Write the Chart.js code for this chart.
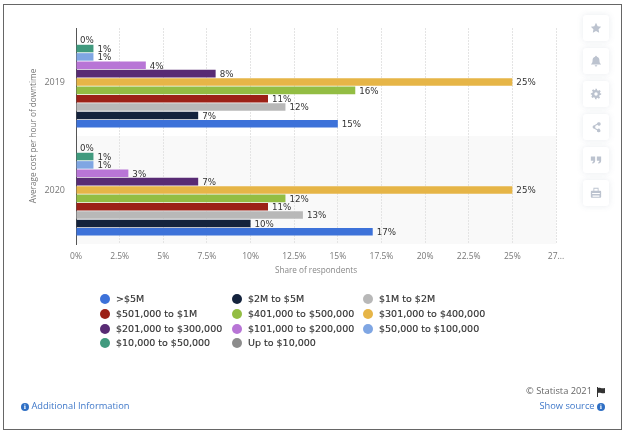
<!DOCTYPE html>
<html>
<head>
<meta charset="utf-8">
<script src="https://cdn.jsdelivr.net/npm/chart.js@4"></script>
<style>
html, body { margin: 0; padding: 0; background: #fff; }
#page { position: relative; width: 626px; height: 433px; overflow: hidden; }
#frame { position: absolute; left: 3px; top: 4px; width: 617px; height: 424px; border: 1px solid #666; }
canvas { position: absolute; left: 0; top: 0; }
.leg { position: absolute; font: 9.5px "DejaVu Sans"; color: #333; white-space: nowrap; line-height: 12px; -webkit-text-stroke: 0.15px #333; }
.dot { position: absolute; width: 10px; height: 10px; border-radius: 50%; }
.card { position: absolute; left: 583px; width: 26px; height: 26px; background: #fff; border-radius: 3px; box-shadow: 0 0 6px rgba(90,110,140,.14); }
.card svg { position: absolute; left: 7px; top: 7px; width: 12px; height: 12px; fill: #bcc3cf; }
.foot { position: absolute; font: 9.3px "Open Sans"; white-space: nowrap; line-height: 14px; }
.blue { color: #3f78c9; }
.info { display: inline-block; width: 8px; height: 8px; border-radius: 50%; background: #2f6fc4; color: #fff; font: bold 6px/8px "DejaVu Serif"; text-align: center; vertical-align: 0; }
</style>
</head>
<body>
<div id="page">
<div id="frame"></div>
<canvas id="grafico" width="626" height="433"></canvas>
<div id="legenda"></div>
<div id="botoes"></div>
<div class="foot" style="right:34px;top:384px;color:#666">© Statista 2021</div>
<svg style="position:absolute;left:596px;top:387px" width="10" height="10" viewBox="0 0 10 10"><path d="M1 0h1v10H1zM2 1c2-1 3 1 7 0v5c-3 1-5-1-7 0z" fill="#333"/></svg>
<div class="foot blue" style="left:21px;top:399px"><span class="info">i</span> Additional Information</div>
<div class="foot blue" style="right:21px;top:399px">Show source <span class="info">i</span></div>
</div>
<script>
const anos = ['2019', '2020'];
const faixas = ['Up to $10,000', '$10,000 to $50,000', '$50,000 to $100,000', '$101,000 to $200,000', '$201,000 to $300,000', '$301,000 to $400,000', '$401,000 to $500,000', '$501,000 to $1M', '$1M to $2M', '$2M to $5M', '>$5M'];
const cores = ['#8c8c8c', '#409a7e', '#7fa6e3', '#b875d6', '#582b74', '#e6b547', '#93bd43', '#9c2117', '#b8b8b8', '#14233d', '#3d72d9'];
const upTo10k = [0, 0];
const de10a50k = [1, 1];
const de50a100k = [1, 1];
const de101a200k = [4, 3];
const de201a300k = [8, 7];
const de301a400k = [25, 25];
const de401a500k = [16, 12];
const de501kA1M = [11, 11];
const de1a2M = [12, 13];
const de2a5M = [7, 10];
const acima5M = [15, 17];
const valores = [upTo10k, de10a50k, de50a100k, de101a200k, de201a300k, de301a400k, de401a500k, de501kA1M, de1a2M, de2a5M, acima5M];
const rotulosX = ['0%', '2.5%', '5%', '7.5%', '10%', '12.5%', '15%', '17.5%', '20%', '22.5%', '25%', '27...'];

// legend runs backwards from the stacking order, 3 columns
const legenda = document.getElementById('legenda');
const colX = [100, 232, 363];
const linhaY = [294, 309, 324, 338];
for (let i = 0; i < faixas.length; i++) {
    const idx = faixas.length - 1 - i;
    const x = colX[i % 3], y = linhaY[Math.floor(i / 3)];
    legenda.innerHTML += '<div class="dot" style="left:' + x + 'px;top:' + y + 'px;background:' + cores[idx] + '"></div>';
    const d = document.createElement('div');
    d.className = 'leg';
    d.style.left = (x + 16) + 'px';
    d.style.top = (y - 1) + 'px';
    d.textContent = faixas[idx];
    legenda.appendChild(d);
}

const icones = [
    'M7 1l1.9 3.9 4.1.6-3 2.9.7 4.1L7 10.6 3.3 12.5 4 8.4 1 5.5l4.1-.6z',
    'M7 1a1 1 0 0 1 1 1c2 .5 3 2 3 4 0 3 1 4 2 5H1c1-1 2-2 2-5 0-2 1-3.500 3-4a1 1 0 0 1 1-1zM5.500 12h3a1.500 1.500 0 0 1-3 0z',
    'M6 1h2l.3 1.700 1.300.6 1.500-1 1.400 1.400-1 1.500.6 1.300L13 6v2l-1.700.3-.6 1.300 1 1.500-1.400 1.400-1.500-1-1.300.6L8 13H6l-.3-1.700-1.300-.6-1.500 1-1.400-1.400 1-1.500-.6-1.300L1 8V6l1.700-.3.6-1.300-1-1.500 1.400-1.400 1.500 1 1.300-.6zM7 5a2 2 0 1 0 0 4 2 2 0 0 0 0-4z',
    'M10.500 1.500a2 2 0 1 1-1.800 2.900L6 5.900a2 2 0 0 1 0 2.200l2.700 1.500a2 2 0 1 1-.6 1.100L5 9a2 2 0 1 1 0-4l3.100-1.700a2 2 0 0 1 2.400-1.800z',
    'M1 3h5v5c0 2-1.500 3-3 3.500L2.500 10C3.500 9.500 4 9 4 8H1zM8 3h5v5c0 2-1.500 3-3 3.500L9.500 10c1-.5 1.500-1 1.500-2H8z',
    'M4 1h6v3.500h2a1 1 0 0 1 1 1v6a1 1 0 0 1-1 1H2a1 1 0 0 1-1-1v-6a1 1 0 0 1 1-1h2zM5 2v2.500h4V2zM2.500 7v1.200h9V7zM3 10v1.500h8V10z'
];
const botoes = document.getElementById('botoes');
icones.forEach((p, i) => {
    botoes.innerHTML += '<div class="card" style="top:' + (15 + i * 33) + 'px"><svg viewBox="0 0 14 14"><path fill-rule="evenodd" d="' + p + '"/></svg></div>';
});

const faixa2020 = {
    id: 'faixa2020',
    beforeDatasetsDraw(chart) {
        const { ctx, chartArea, scales } = chart;
        const meio = (scales.y.getPixelForValue(0) + scales.y.getPixelForValue(1)) / 2;
        ctx.save();
        ctx.globalCompositeOperation = 'destination-over';
        ctx.fillStyle = '#f9f9f9';
        ctx.fillRect(chartArea.left, meio, chartArea.right - chartArea.left, chartArea.bottom - meio);
        ctx.restore();
    }
};

const rotulosBarra = {
    id: 'rotulosBarra',
    afterDatasetsDraw(chart) {
        const ctx = chart.ctx;
        ctx.save();
        ctx.font = '8.7px "DejaVu Sans"';
        ctx.fillStyle = '#333';
        ctx.textBaseline = 'middle';
        chart.data.datasets.forEach((ds, i) => {
            chart.getDatasetMeta(i).data.forEach((barra, j) => {
                ctx.fillText(ds.data[j] + '%', barra.x + 4, barra.y + 1);
            });
        });
        ctx.restore();
    }
};

new Chart(document.getElementById('grafico'), {
    type: 'bar',
    data: {
        labels: anos,
        datasets: faixas.map((f, i) => ({
            label: f,
            data: valores[i],
            backgroundColor: cores[i],
            categoryPercentage: 0.852,
            barPercentage: 0.9
        }))
    },
    plugins: [faixa2020, rotulosBarra],
    options: {
        indexAxis: 'y',
        responsive: false,
        animation: false,
        devicePixelRatio: 1,
        layout: { padding: { left: 29, top: 28, right: 70, bottom: 157 } },
        plugins: { legend: { display: false }, tooltip: { enabled: false } },
        scales: {
            x: {
                min: 0,
                max: 27.5,
                afterFit(s) { s.height = 32; },
                border: { display: false, dash: [2, 1] },
                grid: { color: '#e4e4e4', drawTicks: false },
                ticks: {
                    stepSize: 2.5,
                    maxRotation: 0,
                    autoSkip: false,
                    padding: 7,
                    color: '#777',
                    font: { family: 'Open Sans', size: 8.5 },
                    callback: (v, i) => rotulosX[i]
                },
                title: {
                    display: true,
                    text: 'Share of respondents',
                    color: '#888',
                    font: { family: 'Open Sans', size: 8.2 },
                    padding: 0
                }
            },
            y: {
                afterFit(s) { s.width = 47; },
                border: { color: '#555', width: 1 },
                grid: { display: false, drawTicks: false },
                ticks: { padding: 11, color: '#777', font: { family: 'Open Sans', size: 9 } },
                title: {
                    display: true,
                    text: 'Average cost per hour of downtime',
                    color: '#777',
                    font: { family: 'Open Sans', size: 8.2 },
                    padding: 0
                }
            }
        }
    }
});
</script>
</body>
</html>
